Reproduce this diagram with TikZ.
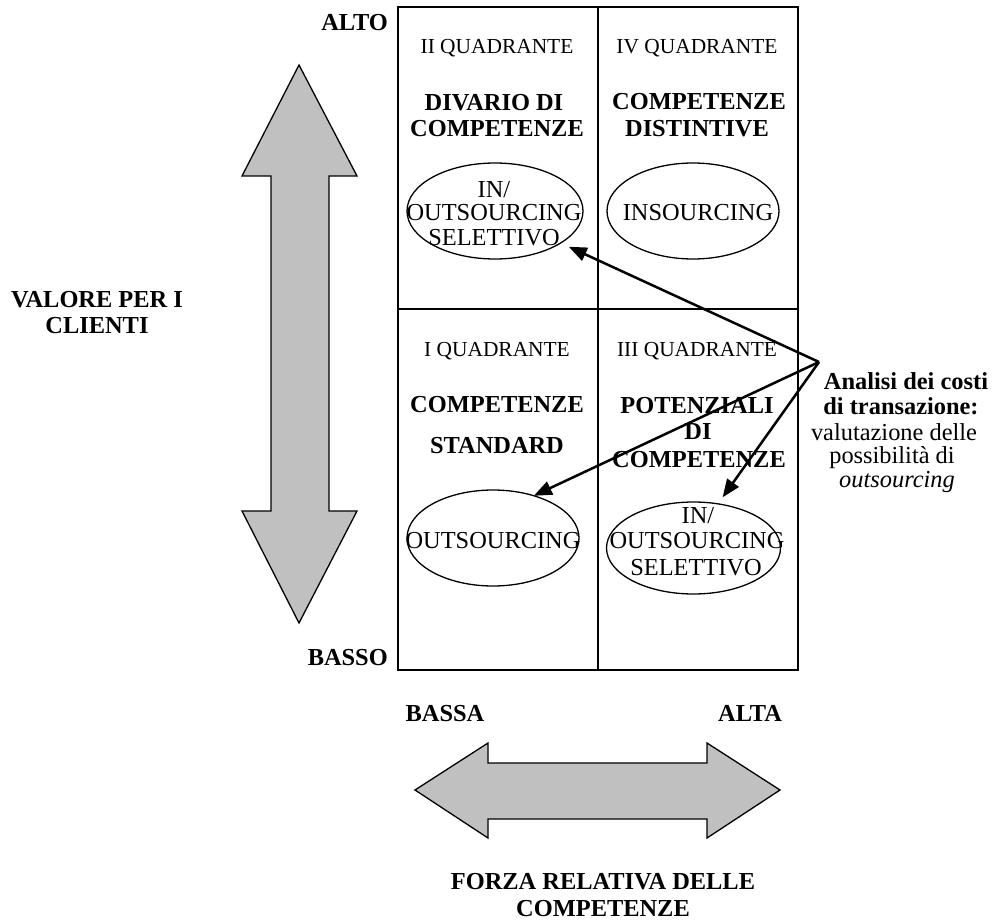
\documentclass[tikz,border=0pt]{standalone}
\usepackage{fontspec}
\setmainfont{Liberation Serif}
\usetikzlibrary{shapes.geometric,arrows.meta}
\definecolor{arrowgray}{HTML}{C0C0C0}
\begin{document}
\begin{tikzpicture}[x=1pt,y=-1pt,
  gridline/.style={line width=2.2pt},
  bigarrow/.style={fill=arrowgray, draw=black, line width=1.3pt, line join=miter},
  oval/.style={ellipse, draw, line width=1.3pt, inner sep=0pt, outer sep=0pt},
  conn/.style={line width=2.5pt, -{Triangle[length=18pt,width=14pt]}},
  bl/.style={anchor=base, inner sep=0pt, font=\fontsize{24.4}{28}\selectfont\bfseries},
  tx/.style={anchor=base, inner sep=0pt, font=\fontsize{24.4}{28}\selectfont},
  ql/.style={anchor=base, inner sep=0pt, font=\fontsize{21.4}{24}\selectfont}]
\useasboundingbox (0,0) rectangle (995,920);

% big vertical double arrow
\draw[bigarrow] (299,65) -- (357,176) -- (329,176) -- (329,511) -- (357,511)
  -- (299,623) -- (242,511) -- (271,511) -- (271,176) -- (242,176) -- cycle;
% big horizontal double arrow
\draw[bigarrow] (415,790) -- (488,743) -- (488,763) -- (707,763) -- (707,743)
  -- (780,790) -- (707,838) -- (707,819) -- (488,819) -- (488,838) -- cycle;

% matrix
\draw[gridline] (398,7) rectangle (798,670);
\draw[gridline] (598,7) -- (598,670);
\draw[gridline] (398,309) -- (798,309);

% axis labels
\node[bl, anchor=base east] (alto) at (388,31) {ALTO};
\node[bl, anchor=base east] (basso) at (388,665) {BASSO};
\node[bl] (bassa) at (445,721) {BASSA};
\node[bl] (alta) at (750,721) {ALTA};
\node[bl] (forza1) at (603,889) {FORZA RELATIVA DELLE};
\node[bl] (forza2) at (603,916) {COMPETENZE};
\node[bl] (valore1) at (97,307) {VALORE PER I};
\node[bl] (valore2) at (97,333) {CLIENTI};

% quadrant II
\node[ql] (q2) at (497,54) {II QUADRANTE};
\node[bl] (q2a) at (494,111) {DIVARIO DI};
\node[bl] (q2b) at (497,137) {COMPETENZE};
\node[oval, minimum width=176pt, minimum height=96pt] (e2) at (495,211) {};
\node[tx] (e2a) at (494,197) {IN/};
\node[tx] (e2b) at (494,220) {OUTSOURCING};
\node[tx] (e2c) at (494,245) {SELETTIVO};

% quadrant IV
\node[ql] (q4) at (697,54) {IV QUADRANTE};
\node[bl] (q4a) at (699,110) {COMPETENZE};
\node[bl] (q4b) at (697,137) {DISTINTIVE};
\node[oval, minimum width=172pt, minimum height=96pt] (e4) at (693,211) {};
\node[tx] (e4a) at (698,220) {INSOURCING};

% quadrant I
\node[ql] (q1) at (497,356) {I QUADRANTE};
\node[bl] (q1a) at (497,412) {COMPETENZE};
\node[bl] (q1b) at (497,453) {STANDARD};
\node[oval, minimum width=172pt, minimum height=96pt] (e1) at (493,538) {};
\node[tx] (e1a) at (493,548) {OUTSOURCING};

% quadrant III
\node[ql] (q3) at (697,356) {III QUADRANTE};
\node[bl] (q3a) at (697,413) {POTENZIALI};
\node[bl] (q3b) at (698,439) {DI};
\node[bl] (q3c) at (699,467) {COMPETENZE};
\node[oval, minimum width=174pt, minimum height=92pt] (e3) at (693.5,548) {};
\node[tx] (e3a) at (698,523) {IN/};
\node[tx] (e3b) at (697,548) {OUTSOURCING};
\node[tx] (e3c) at (696,575) {SELETTIVO};

% transaction cost text
\node[bl] (an1) at (906,389) {Analisi dei costi};
\node[bl] (an2) at (901,414) {di transazione:};
\node[tx] (an3) at (894,440) {valutazione delle};
\node[tx] (an4) at (892,463) {possibilità di};
\node[tx, font=\fontsize{24.4}{28}\selectfont\itshape] (an5) at (897,487) {outsourcing};

% connectors
\coordinate (apex) at (819,362);
\draw[conn, shorten >=9pt] (apex) -- (e2.-26);
\draw[conn] (apex) -- (e1.46);
\draw[conn, shorten >=8pt] (apex) -- (e3.61);
\end{tikzpicture}
\end{document}
